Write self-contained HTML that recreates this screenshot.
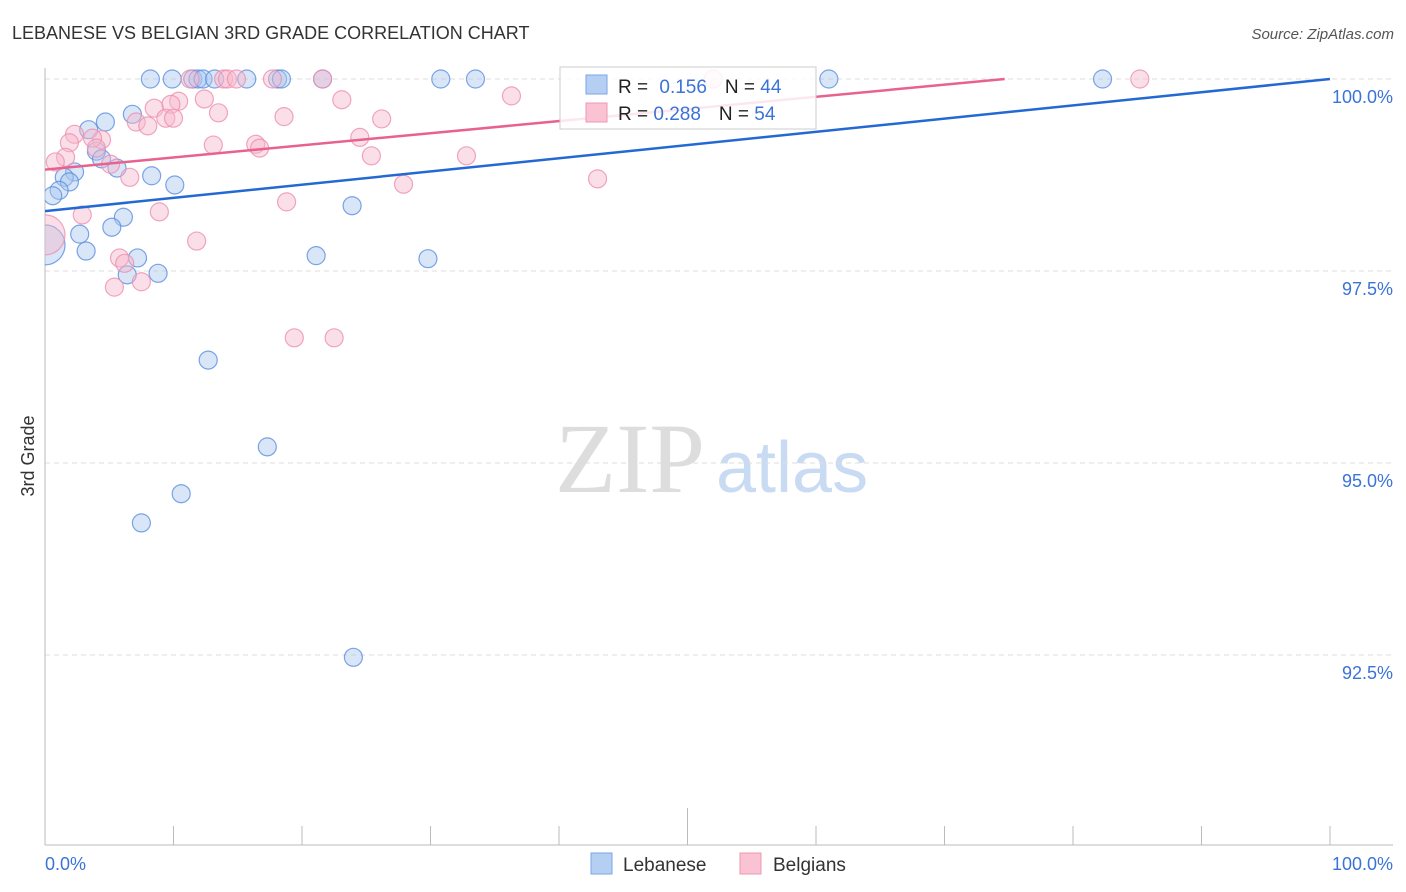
<!DOCTYPE html>
<html><head><meta charset="utf-8"><style>
body{margin:0;background:#fff;width:1406px;height:892px;overflow:hidden;font-family:"Liberation Sans",sans-serif}
</style></head><body>
<svg id="chart" width="1406" height="892" style="position:absolute;left:0;top:0">
<text x="12" y="39" font-size="18" fill="#333">LEBANESE VS BELGIAN 3RD GRADE CORRELATION CHART</text>
<text x="1394" y="39" font-size="15" fill="#555" font-style="italic" text-anchor="end">Source: ZipAtlas.com</text>
<text x="34" y="456" font-size="18" fill="#333" text-anchor="middle" transform="rotate(-90 34 456)">3rd Grade</text>
<text x="555" y="492" font-size="100" fill="#ddd" font-family="Liberation Serif,serif">ZIP</text>
<text x="716" y="492" font-size="72" fill="#c9daf3">atlas</text>
<g id="grid"></g><g id="axes"></g>
<clipPath id="clip"><rect x="45" y="50" width="1350" height="795"/></clipPath>
<g id="pts" clip-path="url(#clip)"></g><g id="lines" clip-path="url(#clip)"></g>
<g>
<rect x="560" y="67" width="256" height="62" fill="#fff" fill-opacity="0.85" stroke="#ccc"/>
<rect x="586" y="75" width="21" height="19" fill="#b5cff3" stroke="#7aa6e6"/>
<rect x="586" y="103" width="21" height="19" fill="#f9c3d3" stroke="#f096b4"/>
<text x="618" y="93" font-size="19" fill="#222">R = <tspan fill="#3b73d6" dx="6">0.156</tspan><tspan dx="18" fill="#222">N = </tspan><tspan fill="#3b73d6">44</tspan></text>
<text x="618" y="120" font-size="19" fill="#222">R = <tspan fill="#3b73d6">0.288</tspan><tspan dx="18" fill="#222">N = </tspan><tspan fill="#3b73d6">54</tspan></text>
</g>
<g>
<rect x="591" y="853" width="21" height="21" fill="#b5cff3" stroke="#7aa6e6"/>
<text x="623" y="871" font-size="19" fill="#333">Lebanese</text>
<rect x="740" y="853" width="21" height="21" fill="#f9c3d3" stroke="#f096b4"/>
<text x="773" y="871" font-size="19" fill="#333">Belgians</text>
</g>
</svg>
<script>
const yTicks=[100,97.5,95,92.5];
const yTickLabels=["100.0%","97.5%","95.0%","92.5%"];
const xTickLabels=["0.0%","100.0%"];
const lebX=[8.2,9.9,11.5,11.9,12.3,13.2,15.7,18.1,18.4,21.6,30.8,33.5,61.0,82.3,6.8,4.7,3.4,4.0,4.4,5.6,2.3,1.5,1.9,8.3,10.1,1.1,0.6,23.9,6.1,5.2,2.7,3.2,7.2,21.1,29.8,6.4,8.8,12.7,17.3,10.6,7.5,24.0,0];
const lebY=[100,100,100,100,100,100,100,100,100,100,100,100,100,100,99.54,99.44,99.34,99.06,98.96,98.84,98.79,98.72,98.66,98.74,98.62,98.55,98.48,98.35,98.20,98.07,97.98,97.76,97.67,97.70,97.66,97.45,97.47,96.34,95.21,94.60,94.22,92.47,97.84];
const belX=[11.3,13.9,14.2,14.9,17.7,21.6,52.0,85.2,10.4,9.8,8.5,12.4,23.1,36.3,13.5,7.1,9.4,10.0,8.0,18.6,26.2,2.3,4.4,1.9,3.7,24.5,13.1,16.4,16.7,1.6,0.8,25.4,32.8,5.1,6.6,27.9,43.0,18.8,8.9,2.9,11.8,5.8,6.2,5.4,7.5,19.4,22.5,4.0,0];
const belY=[100,100,100,100,100,100,100,100,99.71,99.67,99.62,99.74,99.73,99.78,99.56,99.44,99.49,99.49,99.39,99.51,99.48,99.28,99.21,99.17,99.23,99.24,99.14,99.15,99.10,98.98,98.92,99.00,99.00,98.89,98.72,98.63,98.70,98.40,98.27,98.23,97.89,97.67,97.60,97.29,97.36,96.63,96.63,99.10,97.97];
const lebTrend=[98.28,100.0];
const belTrend=[98.82,100.4];
const NS='http://www.w3.org/2000/svg';
const X=v=>45+v*12.85, Y=v=>79+(100-v)*76.8;
function mk(t,a,p){const e=document.createElementNS(NS,t);for(const k in a)e.setAttribute(k,a[k]);p.appendChild(e);return e;}
const grid=document.getElementById('grid'),axes=document.getElementById('axes'),pts=document.getElementById('pts'),lines=document.getElementById('lines');
yTicks.forEach((v,i)=>{
 const l=mk('line',{x1:45,x2:1393,y1:Y(v),y2:Y(v),stroke:'#ddd','stroke-dasharray':'5,4'},grid);
 
 
 const t=mk('text',{x:1393,y:Y(v)+24,'font-size':18,fill:'#3b73d6','text-anchor':'end'},grid);t.textContent=yTickLabels[i];
 
 
});
mk('line',{x1:45,x2:45,y1:68,y2:845,stroke:'#bbb'},axes);
mk('line',{x1:45,x2:1393,y1:845,y2:845,stroke:'#bbb'},axes);
for(let i=0;i<=10;i++){const l=mk('line',{x1:X(i*10),x2:X(i*10),y1:845,y2:i==5?808:826,stroke:'#bbb'},axes);
 
 }
const t0=mk('text',{x:45,y:870,'font-size':18,fill:'#3b73d6'},axes);t0.textContent=xTickLabels[0];


const t1=mk('text',{x:1393,y:870,'font-size':18,fill:'#3b73d6','text-anchor':'end'},axes);t1.textContent=xTickLabels[1];


function series(xs,ys,fill,stroke,name){xs.forEach((x,i)=>{const big=(x===0);
 const c=mk('circle',{cx:X(x),cy:Y(ys[i]),r:big?20:9,fill:fill,'fill-opacity':0.45,stroke:stroke,'stroke-width':1.2,'stroke-opacity':0.8},pts);
 
 });}
series(lebX,lebY,'#a9c8f0','#5b8fde','lebanese-point');
series(belX,belY,'#f7b9cb','#ee8fb0','belgians-point');
const lb=mk('line',{x1:X(0),y1:Y(lebTrend[0]),x2:X(100),y2:Y(lebTrend[1]),stroke:'#2468d4','stroke-width':2.5},lines);


const bt=belTrend, tx=(100-bt[0])/(bt[1]-bt[0])*100;
const lp=mk('line',{x1:X(0),y1:Y(bt[0]),x2:X(tx),y2:Y(100),stroke:'#e8628f','stroke-width':2.5},lines);


</script>
</body></html>
